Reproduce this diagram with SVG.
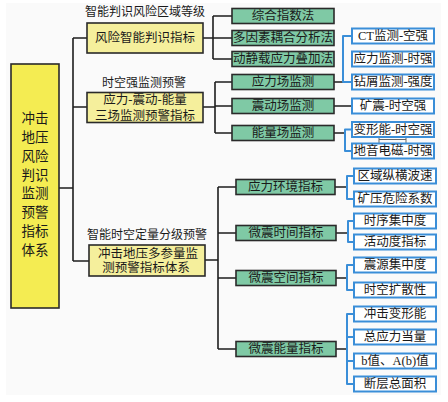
<svg xmlns="http://www.w3.org/2000/svg" width="448" height="402" viewBox="0 0 448 402">
<style>
text{font-family:"Liberation Serif","Noto Sans CJK SC",serif;fill:#1a1a1a;text-anchor:middle;dominant-baseline:central}
.t{font-size:12.5px}
.lb{font-size:12px}
.main{font-size:13.5px}
.root{fill:#f4ec52;stroke:#2a2a2a;stroke-width:1.6}
.l1{fill:#f5ef9c;stroke:#2a2a2a;stroke-width:1.6}
.g{fill:#7fc9a5;stroke:#2a2a2a;stroke-width:1.6}
.b{fill:#ffffff;stroke:#3a8ed8;stroke-width:2}
.c{fill:none;stroke:#1e1e1e;stroke-width:1.6}
.cb{fill:none;stroke:#3a8ed8;stroke-width:2;stroke-linejoin:round}
.cg{fill:none;stroke:#666;stroke-width:1}
</style>
<rect x="6" y="3" width="435" height="392" fill="#fafafa"/>
<g id="connectors">
<path class="c" d="M59,188 H73 M73,38 V261 M73,38 H87 M73,107 H87 M73,261 H89"/>
<path class="c" d="M203,38 H213 M213,16 V59 M213,16 H232 M213,38 H232 M213,59 H232"/>
<path class="c" d="M203,107 H215 M215,82 V133 M215,82 H232 M215,106 H232 M215,133 H232"/>
<path class="c" d="M205,260 H218 M218,187 V349 M218,187 H236 M218,233 H236 M218,278 H236 M218,349 H236"/>
<path class="c" d="M334,82 H343 M334,106 H352 M334,133 H345 M335,187 H347 M336,233 H348 M336,278 H347 M336,349 H347"/>
<path class="cb" d="M352,36 H343 V82 H352"/>
<path class="cb" d="M352,129.5 H345 V151 H352"/>
<path class="cb" d="M354,176 H347 V199 H354"/>
<path class="cb" d="M354,221 H348 V242 H354"/>
<path class="cb" d="M354,265 H347 V290 H354"/>
<path class="cb" d="M354,314 H347 V384 H354 M347,337 H354 M347,361 H354"/>
<path class="cg" d="M379,137 V143 M406,137 V143 M379,139.5 H406"/>
</g>
<g id="root"><rect class="root" x="11" y="64" width="48" height="244"/>
<text class="main" x="35" y="118">冲击</text><text class="main" x="35" y="137">地压</text><text class="main" x="35" y="156">风险</text><text class="main" x="35" y="175">判识</text><text class="main" x="35" y="193.5">监测</text><text class="main" x="35" y="212">预警</text><text class="main" x="35" y="231">指标</text><text class="main" x="35" y="250">体系</text></g>
<g id="n1"><text class="lb" x="145" y="12">智能判识风险区域等级</text><rect class="l1" x="87" y="23" width="116" height="30"/><text class="t" x="145" y="38">风险智能判识指标</text></g>
<g id="n2"><text class="lb" x="144" y="83">时空强监测预警</text><rect class="l1" x="87" y="92.5" width="116" height="30"/><text class="t" x="145" y="100">应力-震动-能量</text><text class="t" x="145" y="115.5">三场监测预警指标</text></g>
<g id="n3"><text class="lb" x="147" y="235">智能时空定量分级预警</text><rect class="l1" x="89" y="245" width="116" height="31"/><text class="t" x="148" y="254">冲击地压多参量监</text><text class="t" x="146" y="267.5">测预警指标体系</text></g>
<g id="g1"><rect class="g" x="232" y="8.5" width="102" height="15"/><text class="t" x="283" y="16">综合指数法</text></g>
<g id="g2"><rect class="g" x="232" y="30.5" width="102" height="15"/><text class="t" x="283" y="38">多因素耦合分析法</text></g>
<g id="g3"><rect class="g" x="232" y="51.5" width="102" height="15"/><text class="t" x="283" y="59">动静载应力叠加法</text></g>
<g id="g4"><rect class="g" x="232" y="74.5" width="102" height="15"/><text class="t" x="283" y="82">应力场监测</text></g>
<g id="g5"><rect class="g" x="232" y="98.5" width="102" height="15"/><text class="t" x="283" y="106">震动场监测</text></g>
<g id="g6"><rect class="g" x="232" y="125.5" width="102" height="15"/><text class="t" x="283" y="133">能量场监测</text></g>
<g id="g7"><rect class="g" x="236" y="179.5" width="99" height="15"/><text class="t" x="285.5" y="187">应力环境指标</text></g>
<g id="g8"><rect class="g" x="236" y="225.5" width="100" height="15"/><text class="t" x="286" y="233">微震时间指标</text></g>
<g id="g9"><rect class="g" x="236" y="270.5" width="100" height="15"/><text class="t" x="286" y="278">微震空间指标</text></g>
<g id="g10"><rect class="g" x="236" y="341.5" width="100" height="15"/><text class="t" x="286" y="349">微震能量指标</text></g>
<g id="b1"><rect class="b" x="352" y="28.5" width="82" height="15"/><text class="t" x="393" y="36">CT监测-空强</text></g>
<g id="b2"><rect class="b" x="352" y="51.5" width="82" height="15"/><text class="t" x="393" y="59">应力监测-时强</text></g>
<g id="b3"><rect class="b" x="352" y="74.5" width="82" height="15"/><text class="t" x="393" y="82">钻屑监测-强度</text></g>
<g id="b4"><rect class="b" x="352" y="98.5" width="82" height="15"/><text class="t" x="393" y="106">矿震-时空强</text></g>
<g id="b5"><rect class="b" x="352" y="122" width="82" height="15"/><text class="t" x="393" y="129.5">变形能-时空强</text></g>
<g id="b6"><rect class="b" x="352" y="143.5" width="82" height="15"/><text class="t" x="393" y="151">地音电磁-时强</text></g>
<g id="b7"><rect class="b" x="354" y="168.5" width="82" height="15"/><text class="t" x="395" y="176">区域纵横波速</text></g>
<g id="b8"><rect class="b" x="354" y="191.5" width="82" height="15"/><text class="t" x="395" y="199">矿压危险系数</text></g>
<g id="b9"><rect class="b" x="354" y="213.5" width="82" height="15"/><text class="t" x="395" y="221">时序集中度</text></g>
<g id="b10"><rect class="b" x="354" y="234.5" width="82" height="15"/><text class="t" x="395" y="242">活动度指标</text></g>
<g id="b11"><rect class="b" x="354" y="257.5" width="82" height="15"/><text class="t" x="395" y="265">震源集中度</text></g>
<g id="b12"><rect class="b" x="354" y="282.5" width="82" height="15"/><text class="t" x="395" y="290">时空扩散性</text></g>
<g id="b13"><rect class="b" x="354" y="306.5" width="82" height="15"/><text class="t" x="395" y="314">冲击变形能</text></g>
<g id="b14"><rect class="b" x="354" y="329.5" width="82" height="15"/><text class="t" x="395" y="337">总应力当量</text></g>
<g id="b15"><rect class="b" x="354" y="353.5" width="82" height="15"/><text class="t" x="395" y="361">b值、A(b)值</text></g>
<g id="b16"><rect class="b" x="354" y="376.5" width="82" height="15"/><text class="t" x="395" y="384">断层总面积</text></g>
</svg>
